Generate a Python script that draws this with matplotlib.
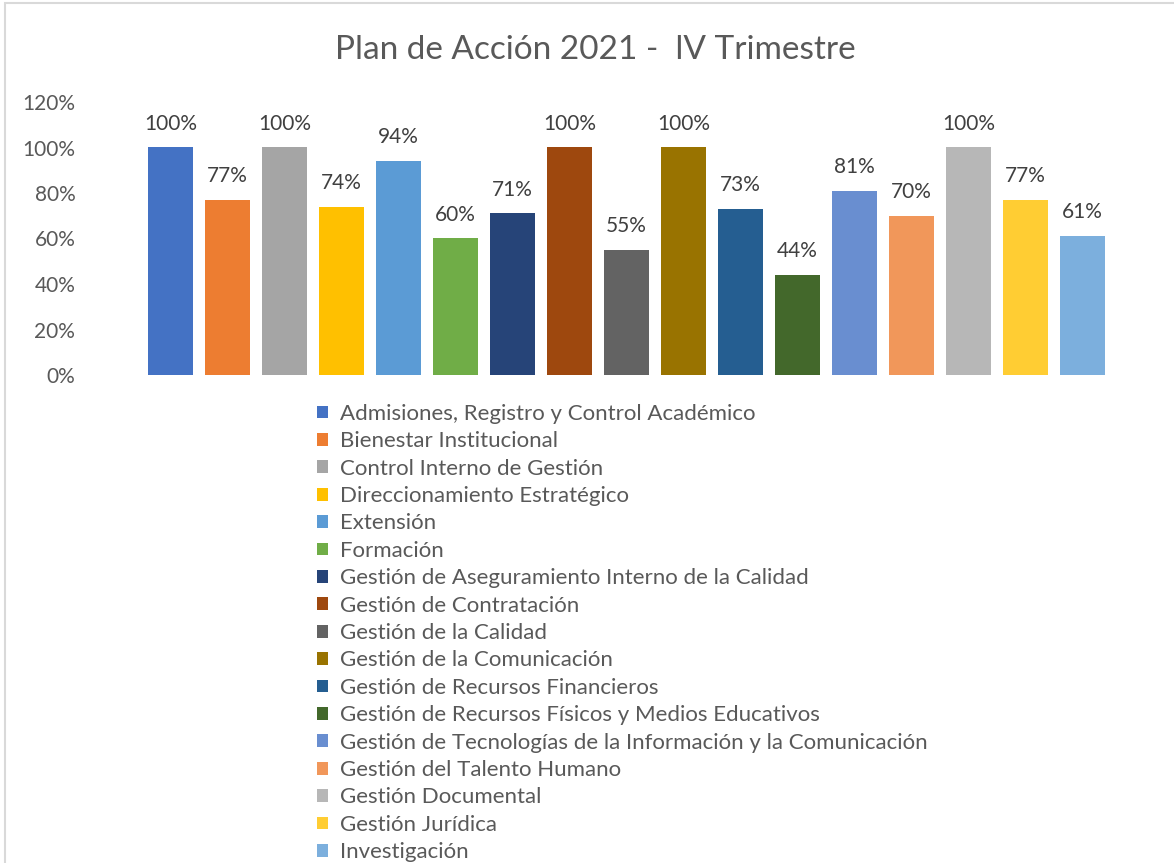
import matplotlib
matplotlib.use("Agg")
import matplotlib.pyplot as plt
from matplotlib.patches import Rectangle
from matplotlib.ticker import PercentFormatter

# --- data -------------------------------------------------------------------
areas = [
    "Admisiones, Registro y Control Académico",
    "Bienestar Institucional",
    "Control Interno de Gestión",
    "Direccionamiento Estratégico",
    "Extensión",
    "Formación",
    "Gestión de Aseguramiento Interno de la Calidad",
    "Gestión de Contratación",
    "Gestión de la Calidad",
    "Gestión de la Comunicación",
    "Gestión de Recursos Financieros",
    "Gestión de Recursos Físicos y Medios Educativos",
    "Gestión de Tecnologías de la Información y la Comunicación",
    "Gestión del Talento Humano",
    "Gestión Documental",
    "Gestión Jurídica",
    "Investigación",
]
avance = [100, 77, 100, 74, 94, 60, 71, 100, 55, 100, 73, 44, 81, 70, 100, 77, 61]
colores = [
    "#4472C4", "#ED7D31", "#A5A5A5", "#FFC000", "#5B9BD5", "#70AD47",
    "#264478", "#9E480E", "#636363", "#997300", "#255E91", "#43682B",
    "#698ED0", "#F1975A", "#B7B7B7", "#FFCD33", "#7CAFDD",
]
titulo = "Plan de Acción 2021 -  lV Trimestre"

TXT = "#595959"
plt.rcParams["font.family"] = ["Lato", "DejaVu Sans"]

fig = plt.figure(figsize=(11.74, 8.63), dpi=100)
ax = fig.add_axes([142 / 1174, 1 - 375 / 863, (1111 - 142) / 1174, (375 - 102) / 863])

x = list(range(len(avance)))
bars = ax.bar(x, avance, width=0.79, color=colores)
for xi, v in zip(x, avance):
    ax.annotate(f"{v}%", (xi, v), xytext=(0, 10), textcoords="offset points",
                ha="center", va="bottom", fontsize=15, color="#404040")

ax.set_xlim(-0.5, len(avance) - 0.5)
ax.set_ylim(0, 120)
ax.set_yticks(range(0, 121, 20))
ax.yaxis.set_major_formatter(PercentFormatter(decimals=0))
ax.set_xticks([])
ax.tick_params(axis="y", length=0, labelsize=15, labelcolor=TXT, pad=48)
for s in ax.spines.values():
    s.set_visible(False)

fig.text(0.507, 1 - 50 / 863, titulo, ha="center", va="center", fontsize=24, color=TXT)

fig.legend(bars, areas, loc="upper left", bbox_to_anchor=(308 / 1174, 1 - 395 / 863),
           frameon=False, fontsize=16, labelcolor=TXT, handlelength=0.52, handleheight=0.52,
           handletextpad=0.5, labelspacing=0.333, borderaxespad=0, borderpad=0.4)

# faint chart-area border (only top and left visible in the crop)
fig.add_artist(Rectangle((5 / 1174, -0.1), 1.2, 1.1 - 3 / 863, transform=fig.transFigure,
                         fill=False, ec="#d9d9d9", lw=1.5))

fig.savefig("out.png", dpi=100)
